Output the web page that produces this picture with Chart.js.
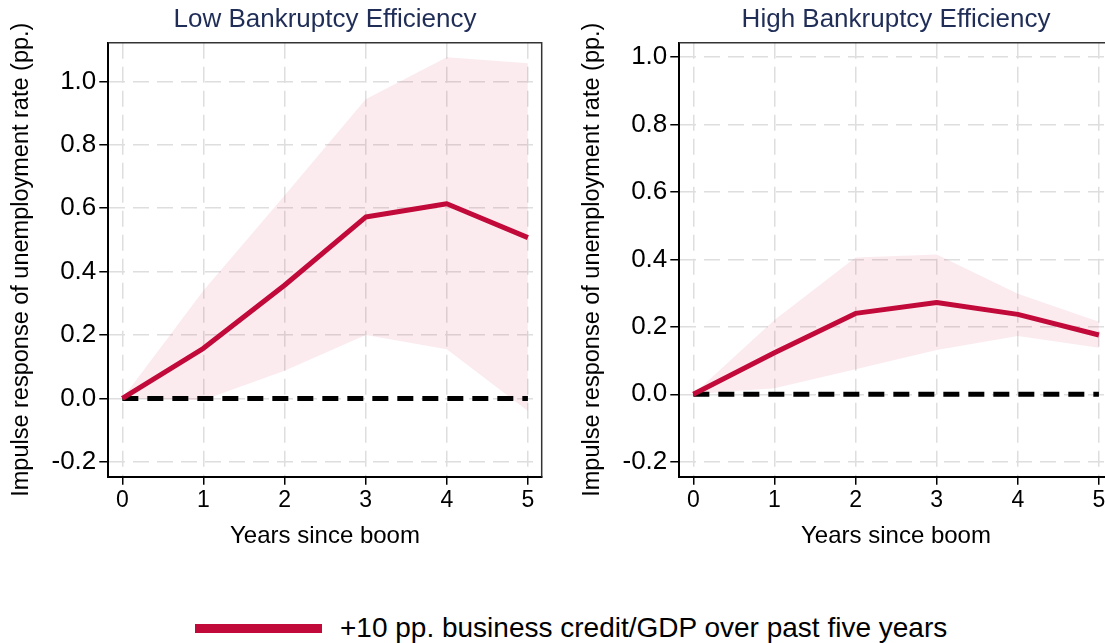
<!DOCTYPE html>
<html>
<head>
<meta charset="utf-8">
<script src="https://cdn.jsdelivr.net/npm/chart.js@4"></script>
<style>
  html, body { margin: 0; padding: 0; background: #fff; overflow: hidden; width: 1105px; height: 643px; }
  #wrap { position: relative; width: 1105px; height: 643px; overflow: hidden; font-family: "Liberation Sans", Arial, sans-serif; }
  canvas { position: absolute; top: 0; }
  #leftChart { left: 0; }
  #rightChart { left: 571px; }
  #legend { position: absolute; left: 195px; top: 612px; display: flex; align-items: center; white-space: nowrap; }
  #legend .swatch { display: inline-block; width: 127px; height: 9px; background: #c20a3a; }
  #legend .label { font-size: 28px; color: #000; margin-left: 18px; }
</style>
</head>
<body>
<div id="wrap">
  <canvas id="leftChart" width="560" height="560"></canvas>
  <canvas id="rightChart" width="560" height="560"></canvas>
  <div id="legend"><span class="swatch"></span><span class="label">+10 pp. business credit/GDP over past five years</span></div>
</div>
<script>
// years after the boom
const years = [0, 1, 2, 3, 4, 5];
const xTicks = [0, 1, 2, 3, 4, 5];
const yTicks = [-0.2, 0, 0.2, 0.4, 0.6, 0.8, 1.0];

// low bankruptcy efficiency
const lowIrf   = [0, 0.158, 0.357, 0.572, 0.614, 0.507];
const lowUpper = [0, 0.340, 0.640, 0.944, 1.076, 1.057];
const lowLower = [0, -0.005, 0.087, 0.200, 0.155, -0.040];

// high bankruptcy efficiency
const highIrf   = [0, 0.123, 0.240, 0.272, 0.237, 0.176];
const highUpper = [0, 0.220, 0.406, 0.415, 0.298, 0.215];
const highLower = [0, 0.018, 0.074, 0.131, 0.173, 0.138];

const zeroLine = [0, 0, 0, 0, 0, 0];

const RED = '#c20a3a';
const BAND = 'rgba(220, 60, 100, 0.10)';
const FONT = '"Liberation Sans", Arial, sans-serif';

const pts = vals => years.map((x, i) => ({ x: x, y: vals[i] }));

// top and right edges of the plot box
const boxPlugin = {
    id: 'box',
    afterDatasetsDraw(chart) {
        const a = chart.chartArea;
        const ctx = chart.ctx;
        ctx.save();
        ctx.strokeStyle = '#333';
        ctx.lineWidth = 1.5;
        ctx.beginPath();
        ctx.moveTo(a.left, a.top);
        ctx.lineTo(a.right, a.top);
        ctx.lineTo(a.right, a.bottom);
        ctx.stroke();
        ctx.restore();
    }
};

function makeChart(id, title, irf, upper, lower, yMin, yMax) {
    const ctx = document.getElementById(id).getContext('2d');
    return new Chart(ctx, {
        type: 'line',
        data: {
            datasets: [
                { data: pts(irf), borderColor: RED, borderWidth: 5, pointRadius: 0,
                  borderJoinStyle: 'round', fill: false, tension: 0 },
                { data: pts(zeroLine), borderColor: '#000', borderWidth: 5, pointRadius: 0,
                  borderDash: [16, 9], fill: false },
                { data: pts(upper), borderWidth: 0, borderColor: BAND, pointRadius: 0,
                  backgroundColor: BAND, fill: '+1' },
                { data: pts(lower), borderWidth: 0, borderColor: BAND, pointRadius: 0, fill: false }
            ]
        },
        options: {
            responsive: false,
            animation: false,
            layout: { padding: { right: 18.3 } },
            plugins: {
                legend: { display: false },
                tooltip: { enabled: false },
                title: {
                    display: true,
                    text: title,
                    fullSize: false,
                    color: '#1f2d57',
                    font: { family: FONT, size: 26, weight: 'normal' },
                    padding: { top: 4, bottom: 7.5 }
                }
            },
            scales: {
                x: {
                    type: 'linear',
                    min: -0.173,
                    max: 5.17,
                    afterBuildTicks: s => { s.ticks = xTicks.map(v => ({ value: v })); },
                    afterFit: s => { s.height = 83.3; },
                    ticks: { color: '#000', font: { family: FONT, size: 23 }, padding: 2 },
                    grid: { color: '#dedede', lineWidth: 1.5, tickColor: '#000', tickWidth: 1.5, tickLength: 8 },
                    border: { color: '#000', width: 2, dash: [16, 8] },
                    title: { display: true, text: 'Years since boom', color: '#000',
                             font: { family: FONT, size: 24 }, padding: { bottom: 9 } }
                },
                y: {
                    min: yMin,
                    max: yMax,
                    afterBuildTicks: s => { s.ticks = yTicks.map(v => ({ value: v })); },
                    afterFit: s => { s.width = 108.3; },
                    ticks: { color: '#000', font: { family: FONT, size: 26 }, padding: 3,
                             callback: v => v.toFixed(1) },
                    grid: { color: '#dedede', lineWidth: 1.5, tickColor: '#000', tickWidth: 1.5, tickLength: 9 },
                    border: { color: '#000', width: 2, dash: [16, 8] },
                    title: { display: true, text: 'Impulse response of unemployment rate (pp.)', color: '#000',
                             font: { family: FONT, size: 23.5 }, padding: { top: 7 } }
                }
            }
        },
        plugins: [boxPlugin]
    });
}

makeChart('leftChart', 'Low Bankruptcy Efficiency', lowIrf, lowUpper, lowLower, -0.247, 1.122);
makeChart('rightChart', 'High Bankruptcy Efficiency', highIrf, highUpper, highLower, -0.2445, 1.043);
</script>
</body>
</html>
